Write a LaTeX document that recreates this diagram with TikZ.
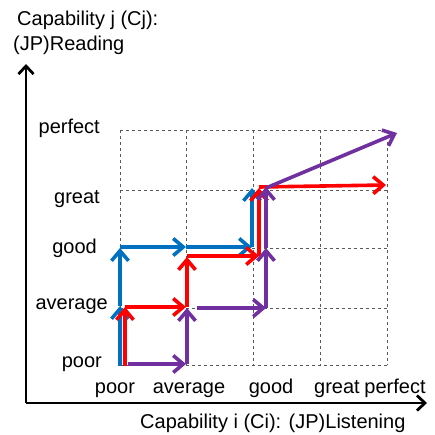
\documentclass[tikz,border=0pt]{standalone}
\usepackage{fontspec}
\setmainfont{Liberation Sans}
\usepackage{tikz}
\usetikzlibrary{arrows.meta}
\definecolor{capblue}{RGB}{0,112,192}
\definecolor{capred}{RGB}{255,0,0}
\definecolor{cappurple}{RGB}{112,48,160}
\tikzset{
  capgrid/.style  = {gray!70!black,thin,dash pattern=on 3pt off 3pt},
  axisarr/.style  = {-{Straight Barb[length=8pt,width=15pt]},line width=2.8pt,black},
  steparr/.style  = {-{Straight Barb[length=10pt,width=17pt]},line width=3.6pt},
  lvlabel/.style  = {font=\fontsize{20}{24}\selectfont,inner sep=0pt}
}
\begin{document}
\begin{tikzpicture}[x=1pt,y=-1pt]
  \useasboundingbox (0,0) rectangle (435,434);
  % grid of levels
  \foreach \gy in {365,308,248,190,130}
    \draw[capgrid] (120,\gy) -- (387,\gy);
  \foreach \gx in {120,186,253,320,387}
    \draw[capgrid] (\gx,130) -- (\gx,365);
  % axes
  \coordinate (origin) at (26,403);
  \coordinate (ytip) at (26,64);
  \coordinate (xtip) at (427,403);
  \draw[axisarr] (origin) -- (ytip);
  \draw[axisarr] (origin) -- (xtip);
  % level labels
  \foreach \ly/\lx/\lt in {133/100/perfect,203/100/great,253/97/good,309/108/average,367/102/poor}
    \node[lvlabel,anchor=base east] (ylab-\lt) at (\lx,\ly) {\lt};
  \foreach \lx/\lt in {115/poor,189/average,271/good,337/great,395/perfect}
    \node[lvlabel,anchor=base] (xlab-\lt) at (\lx,393) {\lt};
  \node[lvlabel,anchor=base west] (ytitle) at (17,25) {Capability j (Cj):};
  \node[lvlabel,anchor=base west] (ytitle2) at (13,50) {(JP)Reading};
  \node[lvlabel,anchor=base west] (xtitle) at (140,428) {Capability i (Ci): (JP)Listening};
  % blue path
  \draw[steparr,capblue] (120,366) -- (120,306);
  \draw[steparr,capblue] (120,306) -- (120,248);
  \draw[steparr,capblue] (120,247) -- (186,247);
  \draw[steparr,capblue] (186,247) -- (252,247);
  \draw[steparr,capblue] (252,247) -- (252,188);
  % red path
  \draw[steparr,capred] (125,366) -- (125,307);
  \draw[steparr,capred] (125,307) -- (186,307);
  \draw[steparr,capred] (187,307) -- (187,257);
  \draw[steparr,capred] (187,256) -- (259,256);
  \draw[steparr,capred] (259,256) -- (259,188);
  \draw[steparr,capred] (259,187) -- (386,185);
  % purple path
  \draw[steparr,cappurple] (128,364) -- (186,364);
  \draw[steparr,cappurple] (187,364) -- (187,308);
  \draw[steparr,cappurple] (197,308) -- (266,308);
  \draw[steparr,cappurple] (266,308) -- (266,248);
  \draw[steparr,cappurple] (266,248) -- (266,187);
  \draw[steparr,cappurple] (266,188) -- (397,133);
\end{tikzpicture}
\end{document}
